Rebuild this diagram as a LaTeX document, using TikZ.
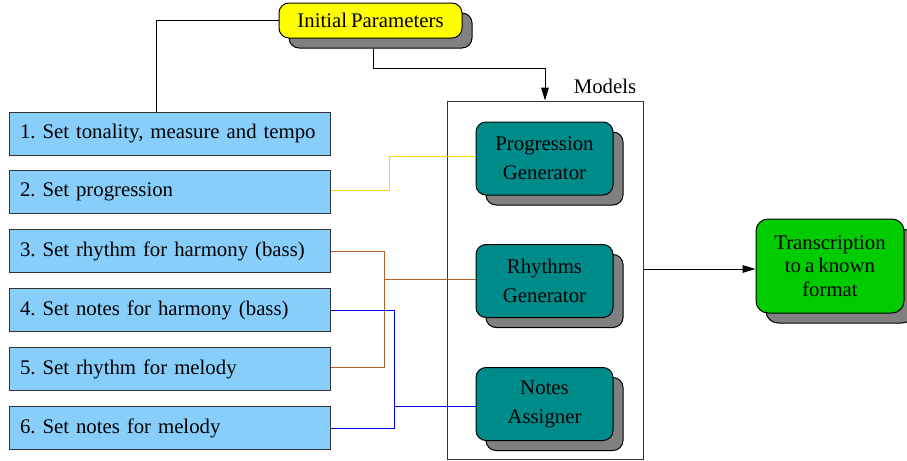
\documentclass[tikz,border=0pt]{standalone}
\usepackage{fontspec}
\setmainfont{Liberation Serif}[WordSpace=0.78]
\usetikzlibrary{arrows.meta,calc,shadows}
\definecolor{lblue}{RGB}{135,206,250}
\definecolor{tealbox}{RGB}{0,139,139}
\definecolor{greenbox}{RGB}{0,204,0}
\definecolor{ybox}{RGB}{255,255,0}
\definecolor{shgray}{RGB}{128,128,128}
\definecolor{yline}{RGB}{255,215,0}
\definecolor{bline}{RGB}{180,95,40}
\definecolor{uline}{RGB}{0,0,255}
\tikzset{
  x=0.5pt,y=-0.5pt,
  every node/.style={font=\fontsize{10.4}{14.5}\selectfont\frenchspacing},
  conn/.style={line width=0.5pt},
  shad/.style={drop shadow={shadow xshift=5pt,shadow yshift=-5pt,fill=shgray,opacity=1,draw=black,line width=0.5pt}},
  stepbox/.style={draw=black!80,line width=0.5pt,fill=lblue,minimum height=21.5pt,text width=149.5pt,inner xsep=5.5pt,align=left},
  modbox/.style={draw=black,line width=0.5pt,fill=tealbox,rounded corners=5pt,minimum width=68.5pt,minimum height=36.5pt,align=center,shad,inner sep=1pt},
  tipA/.style={-{Triangle[length=6.5pt,width=3.8pt]}},
}
\begin{document}
\begin{tikzpicture}
\useasboundingbox (0,0) rectangle (907,461);
% initial parameters
\node[draw=black,line width=0.5pt,fill=ybox,rounded corners=5pt,minimum width=91.5pt,minimum height=17.5pt,shad,inner sep=1pt] (ip) at (370.5,20.5) {Initial Parameters};
% step boxes
\node[stepbox] (b1) at (169.5,133.5) {\mbox{1. Set tonality, measure and tempo}};
\node[stepbox] (b2) at (169.5,192) {\mbox{2. Set progression}};
\node[stepbox] (b3) at (169.5,251) {\mbox{3. Set rhythm for harmony (bass)}};
\node[stepbox] (b4) at (169.5,310) {\mbox{4. Set notes for harmony (bass)}};
\node[stepbox] (b5) at (169.5,369) {\mbox{5. Set rhythm for melody}};
\node[stepbox] (b6) at (169.5,428) {\mbox{6. Set notes for melody}};
% models
\node[draw=black!80,line width=0.5pt,minimum width=98pt,minimum height=179pt,inner sep=0pt] (models) at (545,280) {};
\node (mlabel) at (605,86) {Models};
\node[modbox] (prog) at (544.5,158.5) {Progression\\Generator};
\node[modbox] (rhy) at (544.5,281) {Rhythms\\Generator};
\node[modbox] (notes) at (544.5,404) {Notes\\Assigner};
% transcription
\node[draw=black,line width=0.5pt,fill=greenbox,rounded corners=6pt,minimum width=74pt,minimum height=47pt,align=center,shad,inner sep=1pt,font=\fontsize{10.4}{11.8}\selectfont] (tr) at (830,266) {Transcription\\to a known\\format};
% connectors
\draw[conn] (ip.west) -| ($(b1.north west)+(148,0)$);
\draw[conn,tipA] ($(ip.south)+(2.5,10)$) -- ++(0,20) -| (models.north);
\draw[conn,tipA] (models.east |- {$(tr.west)+(0,3)$}) -- ($(tr.west)+(0,3)$);
\draw[conn,yline] ($(b2.east)+(0,-2)$) -- ++(59,0) |- ($(prog.west)+(0,-2)$);
\draw[conn,bline] (b3.east) -- ++(54,0) coordinate (br) |- ($(b5.east)+(0,-2)$);
\draw[conn,bline] (br |- {$(rhy.west)+(0,-2)$}) -- ($(rhy.west)+(0,-2)$);
\draw[conn,uline] (b4.east) -- ++(64,0) coordinate (bl) |- (b6.east);
\draw[conn,uline] (bl |- {$(notes.west)+(0,2)$}) -- ($(notes.west)+(0,2)$);
\end{tikzpicture}
\end{document}
